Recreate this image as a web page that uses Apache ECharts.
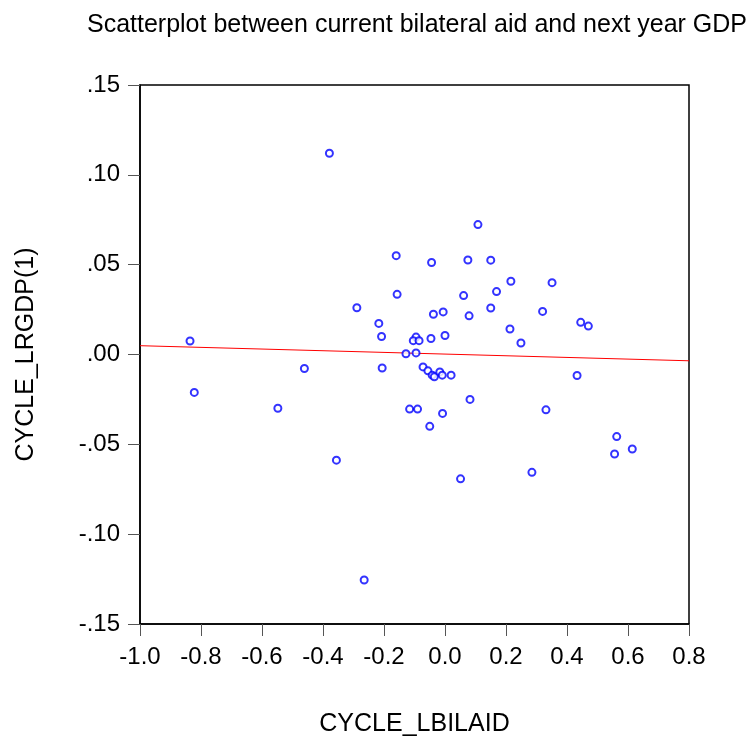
<!DOCTYPE html>
<html>
<head>
<meta charset="utf-8">
<script src="https://cdn.jsdelivr.net/npm/echarts@6/dist/echarts.min.js"></script>
<style>html,body{margin:0;padding:0;background:#fff;overflow:hidden;}#c{width:753px;height:742px;}</style>
</head>
<body>
<div id="c"></div>
<script>
// CYCLE_LBILAID (x) values
var aidX = [-0.379,-0.160,-0.157,-0.289,-0.217,-0.208,-0.836,0.108,-0.044,0.075,
  0.150,0.216,0.351,0.061,0.169,-0.038,-0.006,0.079,0.150,0.320,
  0.445,0.470,0.213,0.249,-0.095,-0.104,-0.085,-0.046,0.000,-0.128,
  -0.095,-0.072,-0.056,-0.042,-0.035,-0.017,-0.009,0.020,0.433,0.082,
  -0.116,-0.090,-0.008,-0.050,0.331,0.563,0.614,0.556,0.051,0.285,
  -0.461,-0.206,-0.822,-0.548,-0.356,-0.265];
// CYCLE_LRGDP(1) (y) values
var gdpY = [0.112,0.055,0.0335,0.026,0.0173,0.010,0.0075,0.0723,0.0512,0.0526,
  0.0525,0.0408,0.040,0.0328,0.035,0.0224,0.0237,0.0215,0.0259,0.024,
  0.0179,0.0158,0.0142,0.0064,0.0097,0.0077,0.0077,0.0089,0.0106,0.0004,
  0.0009,-0.0069,-0.0091,-0.0115,-0.0124,-0.0097,-0.0115,-0.0115,-0.0117,-0.025,
  -0.0304,-0.0304,-0.0328,-0.040,-0.0308,-0.0457,-0.0526,-0.0554,-0.0692,-0.0656,
  -0.0078,-0.0075,-0.0211,-0.0299,-0.0588,-0.1255];
// fitted regression line endpoints
var fitX = [-1.0, 0.8];
var fitY = [0.0049, -0.0035];
var titleText = 'Scatterplot between current bilateral aid and next year GDP';
var xName = 'CYCLE_LBILAID';
var yName = 'CYCLE_LRGDP(1)';

var pts = aidX.map(function(v,i){return [v, gdpY[i]];});
var fit = fitX.map(function(v,i){return [v, fitY[i]];});

var font = 'Liberation Sans, Arial, sans-serif';
var chart = echarts.init(document.getElementById('c'), null, {renderer:'canvas', width:753, height:742});
chart.setOption({
  animation:false,
  backgroundColor:'#fff',
  title:{text:titleText,left:417,top:13,padding:0,textAlign:'center',
    textStyle:{fontFamily:font,fontSize:25,fontWeight:'normal',color:'#000',lineHeight:25}},
  grid:{left:140,top:85,width:549,height:549,show:true,borderColor:'#000',borderWidth:1.5,backgroundColor:'#fff'},
  xAxis:{type:'value',min:-1.0,max:0.8,interval:0.2,
    name:xName,nameLocation:'middle',nameGap:88,
    nameTextStyle:{fontFamily:font,fontSize:25,color:'#000',lineHeight:25},
    axisLine:{show:true,onZero:false,lineStyle:{color:'#000',width:1.5}},
    axisTick:{show:true,length:12,lineStyle:{color:'#555',width:1}},
    axisLabel:{fontFamily:font,fontSize:24,color:'#000',margin:21,lineHeight:24,
      formatter:function(v){return v.toFixed(1);}},
    splitLine:{show:false}},
  yAxis:{type:'value',min:-0.15,max:0.15,interval:0.05,
    name:yName,nameLocation:'middle',nameGap:101,nameRotate:90,
    nameTextStyle:{fontFamily:font,fontSize:25,color:'#000',lineHeight:25},
    axisLine:{show:true,onZero:false,lineStyle:{color:'#000',width:1.5}},
    axisTick:{show:true,length:12,lineStyle:{color:'#555',width:1}},
    axisLabel:{fontFamily:font,fontSize:24,color:'#000',margin:20,
      formatter:function(v){
        var s=Math.abs(v).toFixed(2).replace(/^0/,'');
        return (v< -1e-9?'-':'')+s;}},
    splitLine:{show:false}},
  series:[
    {type:'line',data:fit,symbol:'none',lineStyle:{color:'#ff0000',width:1},z:1,silent:true},
    {type:'scatter',data:pts,symbol:'emptyCircle',symbolSize:7,
      itemStyle:{color:'#0000ff',borderColor:'#0000ff',borderWidth:1.5},z:2}
  ]
});
</script>
</body>
</html>
